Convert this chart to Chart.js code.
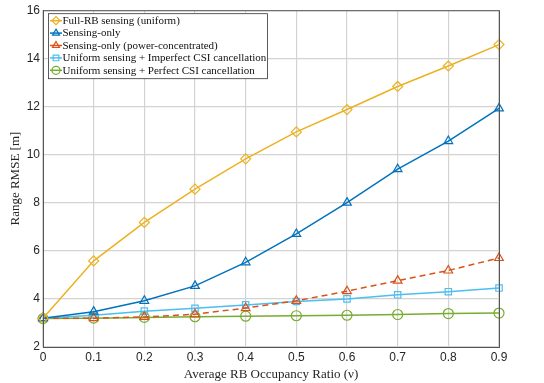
<!DOCTYPE html>
<html>
<head>
<meta charset="utf-8">
<script src="https://cdn.jsdelivr.net/npm/chart.js@4.4.1/dist/chart.umd.min.js"></script>
<style>
  html, body { margin: 0; padding: 0; background: #fff; }
  #wrap { width: 544px; height: 383px; }
</style>
</head>
<body>
<div id="wrap"><canvas id="rmseChart" width="544" height="383"></canvas></div>
<script>
// occupancy ratios on the x axis
const occupancy = [0, 0.1, 0.2, 0.3, 0.4, 0.5, 0.6, 0.7, 0.8, 0.9];

// range RMSE [m] for each scheme
const fullRbUniform = [3.2, 5.58, 7.18, 8.56, 9.82, 10.94, 11.87, 12.83, 13.68, 14.57];
const sensingOnly = [3.2, 3.47, 3.92, 4.54, 5.52, 6.70, 8.0, 9.39, 10.56, 11.92];
const sensingPowerConc = [3.2, 3.2, 3.25, 3.36, 3.62, 3.92, 4.32, 4.76, 5.18, 5.7];
const imperfectCsi = [3.2, 3.32, 3.49, 3.61, 3.75, 3.89, 4.0, 4.17, 4.3, 4.45];
const perfectCsi = [3.18, 3.2, 3.23, 3.26, 3.28, 3.3, 3.32, 3.35, 3.39, 3.41];

const yTicks = [2, 4, 6, 8, 10, 12, 14, 16];

const seriesLabels = [
  'Full-RB sensing (uniform)',
  'Sensing-only',
  'Sensing-only (power-concentrated)',
  'Uniform sensing + Imperfect CSI cancellation',
  'Uniform sensing + Perfect CSI cancellation'
];

function makeSet(label, values, color, marker, dash) {
  return {
    label: label,
    data: occupancy.map((x, i) => ({ x: x, y: values[i] })),
    borderColor: color,
    backgroundColor: 'rgba(0,0,0,0)',
    pointBackgroundColor: 'rgba(0,0,0,0)',
    pointBorderColor: color,
    pointStyle: marker,
    pointRadius: marker === 'rect' ? 4.5 : 5,
    pointBorderWidth: 1.2,
    borderWidth: 1.5,
    borderDash: dash || [],
    tension: 0,
    clip: false
  };
}

const datasets = [
  makeSet(seriesLabels[0], fullRbUniform, '#EDB120', 'rectRot'),
  makeSet(seriesLabels[1], sensingOnly, '#0072BD', 'triangle'),
  makeSet(seriesLabels[2], sensingPowerConc, '#D95319', 'triangle', [6, 4]),
  makeSet(seriesLabels[3], imperfectCsi, '#4DBEEE', 'rect'),
  makeSet(seriesLabels[4], perfectCsi, '#77AC30', 'circle')
];

// legend box drawn inside the plot area, top left (MATLAB style)
const insideLegend = {
  id: 'insideLegend',
  afterDraw(chart) {
    const ctx = chart.ctx;
    const area = chart.chartArea;
    const x0 = area.left + 5, y0 = area.top + 3;
    const w = 219, h = 65, rowH = 12.4;
    ctx.save();
    ctx.fillStyle = '#fff';
    ctx.fillRect(x0, y0, w, h);
    ctx.strokeStyle = '#333';
    ctx.lineWidth = 0.8;
    ctx.strokeRect(x0 + 0.5, y0 + 0.5, w, h);
    chart.data.datasets.forEach((ds, i) => {
      const cy = y0 + 7.5 + i * rowH;
      ctx.strokeStyle = ds.borderColor;
      ctx.lineWidth = 1.5;
      ctx.setLineDash([]);
      ctx.beginPath();
      ctx.moveTo(x0 + 2, cy);
      ctx.lineTo(x0 + 14, cy);
      ctx.stroke();
      ctx.fillStyle = 'rgba(0,0,0,0)';
      ctx.strokeStyle = ds.borderColor;
      ctx.lineWidth = 1.2;
      Chart.helpers.drawPoint(ctx, {
        pointStyle: ds.pointStyle,
        radius: 4,
        borderWidth: 1.2
      }, x0 + 8, cy);
      ctx.fillStyle = '#111';
      ctx.font = '11px "Liberation Serif", serif';
      ctx.textBaseline = 'middle';
      ctx.fillText(ds.label, x0 + 14.5, cy + 0.5);
    });
    ctx.restore();
  }
};

const ctx = document.getElementById('rmseChart').getContext('2d');
new Chart(ctx, {
  type: 'line',
  data: { datasets: datasets },
  options: {
    responsive: false,
    animation: false,
    layout: { padding: { left: 0, right: 45, top: 10, bottom: 0 } },
    plugins: {
      legend: { display: false },
      tooltip: { enabled: false }
    },
    scales: {
      x: {
        type: 'linear',
        min: 0,
        max: 0.9,
        afterBuildTicks: axis => { axis.ticks = occupancy.map(v => ({ value: v })); },
        afterFit: axis => { axis.height = 36; },
        grid: { color: '#d3d3d3', lineWidth: 1.2, drawTicks: false },
        border: { color: '#555', width: 1 },
        ticks: {
          color: '#262626',
          padding: 3,
          font: { family: '"Liberation Sans", Arial, sans-serif', size: 12 },
          maxRotation: 0,
          callback: v => String(Math.round(v * 10) / 10)
        },
        title: {
          display: true,
          text: 'Average RB Occupancy Ratio (\u03bd)',
          color: '#262626',
          padding: { top: 0, bottom: 1 },
          font: { family: '"Liberation Serif", serif', size: 13 }
        }
      },
      y: {
        type: 'linear',
        min: 2,
        max: 16,
        afterBuildTicks: axis => { axis.ticks = yTicks.map(v => ({ value: v })); },
        afterFit: axis => { axis.width = 43; },
        grid: { color: '#d3d3d3', lineWidth: 1.2, drawTicks: false },
        border: { color: '#555', width: 1 },
        ticks: {
          color: '#262626',
          padding: 3,
          font: { family: '"Liberation Sans", Arial, sans-serif', size: 12 }
        },
        title: {
          display: true,
          text: 'Range RMSE [m]',
          color: '#262626',
          padding: { top: 8, bottom: 0 },
          font: { family: '"Liberation Serif", serif', size: 13 }
        }
      }
    }
  },
  plugins: [{
    id: 'boxFrame',
    afterDraw(chart) {
      const a = chart.chartArea;
      const c = chart.ctx;
      c.save();
      c.strokeStyle = '#555';
      c.lineWidth = 1;
      c.strokeRect(a.left + 0.5, a.top + 0.5, a.right - a.left, a.bottom - a.top);
      c.restore();
    }
  }, insideLegend]
});
</script>
</body>
</html>
